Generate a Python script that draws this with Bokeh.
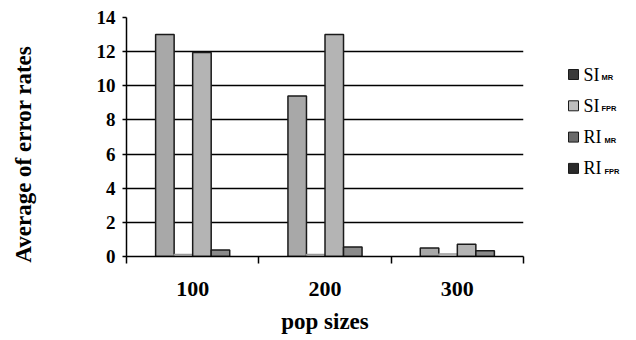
from bokeh.plotting import figure
from bokeh.models import ColumnDataSource, FixedTicker, Range1d
from bokeh.layouts import row
from bokeh.transform import dodge
from bokeh.core.properties import value
from bokeh.embed import file_html
from bokeh.resources import INLINE

pops = ["100", "200", "300"]
si_mr = [13.0, 9.4, 0.5]
si_fpr = [0.12, 0.12, 0.15]
ri_mr = [11.95, 13.0, 0.72]
ri_fpr = [0.38, 0.55, 0.33]
y_ticks = [0, 2, 4, 6, 8, 10, 12, 14]
leg_main = ["SI", "SI", "RI", "RI"]
leg_sub = ["MR", "FPR", "MR", "FPR"]
fills = ["#a8a8a8", "#ececec", "#b4b4b4", "#8a8a8a"]
lines = ["#1a1a1a", "#9a9a9a", "#1a1a1a", "#1a1a1a"]
leg_fills = ["#3a3a3a", "#bdbdbd", "#6a6a6a", "#2a2a2a"]

pos = [i + 0.5 for i in range(len(pops))]
src = ColumnDataSource(dict(x=pos, si_mr=si_mr, si_fpr=si_fpr, ri_mr=ri_mr, ri_fpr=ri_fpr))

p = figure(width=530, height=340, output_backend="svg", toolbar_location=None,
           x_range=Range1d(0, 3), y_range=Range1d(0, 14),
           min_border_left=126, min_border_right=7, min_border_top=17, min_border_bottom=84)
p.frame_width = 397
p.frame_height = 239
p.outline_line_color = None
p.background_fill_color = "white"

keys = ["si_mr", "si_fpr", "ri_mr", "ri_fpr"]
offsets = [-0.21, -0.07, 0.07, 0.21]
for k, off, fc, lc in zip(keys, offsets, fills, lines):
    p.vbar(x=dodge("x", off), top=k, width=0.14, source=src,
           fill_color=fc, line_color=lc, line_width=1.5)

p.xaxis.ticker = FixedTicker(ticks=pos, minor_ticks=[0, 1, 2, 3])
p.xaxis.major_label_overrides = {pp: lab for pp, lab in zip(pos, pops)}
p.xaxis.major_tick_line_color = None
p.xaxis.minor_tick_out = 7
p.xaxis.minor_tick_in = 0
p.xaxis.minor_tick_line_color = "black"
p.xaxis.minor_tick_line_width = 1.5
p.xaxis.axis_line_color = "black"
p.xaxis.axis_line_width = 1.5
p.xaxis.major_label_text_font = "Liberation Serif"
p.xaxis.major_label_text_font_style = "bold"
p.xaxis.major_label_text_font_size = "22px"
p.xaxis.major_label_text_color = "black"
p.xaxis.major_label_standoff = 18
p.xaxis.axis_label = "pop sizes"
p.xaxis.axis_label_text_font = "Liberation Serif"
p.xaxis.axis_label_text_font_style = "bold"
p.xaxis.axis_label_text_font_size = "23px"
p.xaxis.axis_label_text_color = "black"
p.xaxis.axis_label_standoff = 10

p.yaxis.ticker = FixedTicker(ticks=y_ticks)
p.yaxis.major_tick_out = 4
p.yaxis.major_tick_in = 0
p.yaxis.major_tick_line_width = 1.5
p.yaxis.minor_tick_line_color = None
p.yaxis.axis_line_width = 1.5
p.yaxis.major_label_text_font = "Liberation Serif"
p.yaxis.major_label_text_font_style = "bold"
p.yaxis.major_label_text_font_size = "19px"
p.yaxis.major_label_text_color = "black"
p.yaxis.major_label_standoff = 7
p.yaxis.axis_label = "Average of error rates" + "\u00a0" * 6
p.yaxis.axis_label_text_font = "Liberation Serif"
p.yaxis.axis_label_text_font_style = "bold"
p.yaxis.axis_label_text_font_size = "23px"
p.yaxis.axis_label_text_color = "black"
p.yaxis.axis_label_standoff = 58

p.xgrid.grid_line_color = None
p.ygrid.ticker = FixedTicker(ticks=y_ticks)
p.ygrid.grid_line_color = "black"
p.ygrid.grid_line_width = 1.5

# legend panel: same vertical frame as the chart, coordinates in canvas pixels
lg = figure(width=106, height=340, output_backend="svg", toolbar_location=None,
            x_range=Range1d(0, 106), y_range=Range1d(256, 17),
            min_border_left=0, min_border_right=0, min_border_top=17, min_border_bottom=84)
lg.frame_width = 106
lg.frame_height = 239
lg.axis.visible = False
lg.grid.visible = False
lg.outline_line_color = None
n = len(leg_main)
ly = [74 + 31.3 * i for i in range(n)]
lsrc = ColumnDataSource(dict(sx=[43] * n, tx=[53] * n,
                             bx=[53 + (21 if m == "RI" else 18) for m in leg_main],
                             y=ly, by=[yy + 3 for yy in ly],
                             main=leg_main, sub=leg_sub, fc=leg_fills))
lg.scatter(x="sx", y="y", marker="square", size=10, fill_color="fc", line_color="#1a1a1a",
           line_width=1, source=lsrc)
lg.text(x="tx", y="y", text="main", source=lsrc, text_font=value("Liberation Serif"),
        text_font_size="18px", text_baseline="middle", text_color="black")
lg.text(x="bx", y="by", text="sub", source=lsrc, text_font=value("Liberation Sans"),
        text_font_style="bold", text_font_size="7.5px", text_baseline="middle", text_color="black")

open("out.html", "w").write(file_html(row(p, lg), INLINE))
